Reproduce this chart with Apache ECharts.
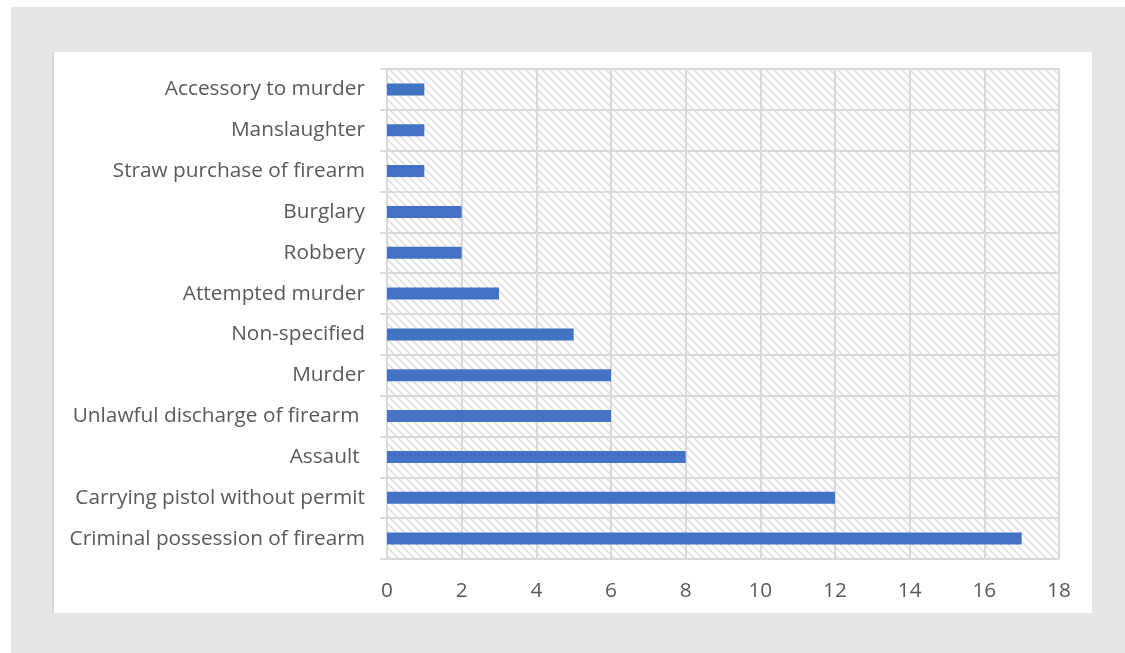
<!DOCTYPE html>
<html>
<head>
<meta charset="utf-8">
<script src="https://cdn.jsdelivr.net/npm/echarts@6/dist/echarts.min.js"></script>
<style>
html,body{margin:0;padding:0;background:#ffffff;}
#chart{width:1125px;height:653px;}
</style>
</head>
<body>
<div id="chart"></div>
<script>
const categories = [
  'Accessory to murder',
  'Manslaughter',
  'Straw purchase of firearm',
  'Burglary',
  'Robbery',
  'Attempted murder',
  'Non-specified',
  'Murder',
  'Unlawful discharge of firearm ',
  'Assault ',
  'Carrying pistol without permit',
  'Criminal possession of firearm'
];
const values = [1, 1, 1, 2, 2, 3, 5, 6, 6, 8, 12, 17];
const xTicks = [0, 2, 4, 6, 8, 10, 12, 14, 16, 18];

// hatch pattern
const pc = document.createElement('canvas');
pc.width = 8; pc.height = 8;
const g = pc.getContext('2d');
g.fillStyle = '#ffffff';
g.fillRect(0, 0, 8, 8);
g.strokeStyle = '#e0e0e0';
g.lineWidth = 1.6;
g.beginPath();
g.moveTo(-2, -2); g.lineTo(10, 10);
g.moveTo(-10, -2); g.lineTo(2, 10);
g.moveTo(6, -2); g.lineTo(18, 10);
g.stroke();

const chart = echarts.init(document.getElementById('chart'), null, {renderer: 'canvas'});
const font = '"Open Sans", sans-serif';
chart.setOption({
  backgroundColor: '#ffffff',
  animation: false,
  graphic: [
    {type: 'rect', z: -10, silent: true, shape: {x: 11, y: 7, width: 1114, height: 646}, style: {fill: '#e5e6e8'}},
    {type: 'rect', z: -9, silent: true, shape: {x: 52, y: 52, width: 2, height: 561}, style: {fill: '#d6d7d9'}},
    {type: 'rect', z: -9, silent: true, shape: {x: 54, y: 52, width: 1038, height: 561}, style: {fill: '#ffffff'}}
  ],
  grid: {
    left: 387, right: 66, top: 69, bottom: 94,
    show: true,
    borderWidth: 0,
    backgroundColor: {image: pc, repeat: 'repeat'}
  },
  xAxis: {
    type: 'value',
    min: 0, max: 18, interval: 2,
    axisLine: {show: false},
    axisTick: {show: false},
    splitLine: {show: true, lineStyle: {color: '#d9d9d9', width: 2}},
    axisLabel: {
      color: '#595959', fontSize: 20.8, fontFamily: font, margin: 22,
      formatter: function (v) { return xTicks.indexOf(v) >= 0 ? String(v) : ''; }
    }
  },
  yAxis: {
    type: 'category',
    data: categories,
    inverse: true,
    axisLine: {show: true, lineStyle: {color: '#d9d9d9', width: 2}},
    axisTick: {show: true, length: 7, lineStyle: {color: '#d9d9d9', width: 2}},
    splitLine: {show: true, lineStyle: {color: '#d9d9d9', width: 2}},
    axisLabel: {color: '#595959', fontSize: 20.8, fontFamily: font, margin: 22, padding: [4, 0, 0, 0]}
  },
  series: [{
    type: 'bar',
    data: values,
    barWidth: 12,
    itemStyle: {color: '#4472c4'}
  }]
});
</script>
</body>
</html>
